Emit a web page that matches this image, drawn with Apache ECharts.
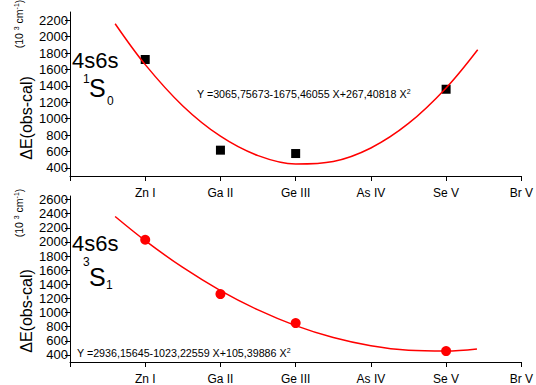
<!DOCTYPE html>
<html>
<head>
<meta charset="utf-8">
<script src="https://cdn.jsdelivr.net/npm/echarts@6/dist/echarts.min.js"></script>
<style>
html,body{margin:0;padding:0;background:#fff;}
#c{width:536px;height:385px;}
</style>
</head>
<body>
<div id="c"></div>
<script>
// ---- data ----
const categories = ["", "Zn I", "Ga II", "Ge III", "As IV", "Se V", "Br V"];
const pointX = [1, 2, 3, 5];
const topObs = [1721, 615, 574, 1358];
const topFitX = [0.6, 1, 1.5, 2, 2.5, 3, 3.5, 4, 4.5, 5, 5.42];
const topFitY = [2157, 1658, 1154, 785, 548, 446, 477, 642, 941, 1374, 1840];
const botObs = [2031, 1262, 851, 455];
const botFitX = [0.6, 1, 1.5, 2, 2.5, 3, 3.5, 4, 4.5, 5, 5.41];
const botFitY = [2360, 2018, 1638, 1311, 1037, 815, 646, 530, 466, 455, 485];
const topYTicks = [400, 600, 800, 1000, 1200, 1400, 1600, 1800, 2000, 2200];
const botYTicks = [400, 600, 800, 1000, 1200, 1400, 1600, 1800, 2000, 2200, 2400, 2600];
const topFormula = "Y =3065,75673-1675,46055 X+267,40818 X";
const botFormula = "Y =2936,15645-1023,22559 X+105,39886 X";

const FONT = "Liberation Sans";
const zip = (a, b) => a.map((v, i) => [v, b[i]]);

function xAxisCfg(gi) {
  return {
    gridIndex: gi, type: 'value', min: 0, max: 6, interval: 1,
    axisLine: { show: true, onZero: false, lineStyle: { color: '#000', width: 1 } },
    axisTick: { show: true, inside: false, length: 5, lineStyle: { color: '#000' } },
    axisLabel: { margin: 11, fontSize: 12, color: '#000', fontFamily: FONT,
      formatter: v => categories[v] || '' },
    splitLine: { show: false }
  };
}
function yAxisCfg(gi, min, max, ticks) {
  return {
    gridIndex: gi, type: 'value', min: min, max: max,
    axisLine: { show: true, onZero: false, lineStyle: { color: '#000', width: 1 } },
    axisTick: { show: true, length: 5, customValues: ticks, lineStyle: { color: '#000' } },
    axisLabel: { margin: 2, fontSize: 13, color: '#000', fontFamily: FONT, customValues: ticks,
      formatter: v => String(v) },
    splitLine: { show: false }
  };
}

const chart = echarts.init(document.getElementById('c'), null, { renderer: 'svg' });
const txt = (x, y, text, size) => ({
  type: 'text', x: x, y: y,
  style: { text: text, fontSize: size, fontFamily: FONT, fill: '#000',
    textAlign: 'left', textVerticalAlign: 'middle', verticalAlign: 'middle' }
});
const rot = (x, y, text, size) => ({
  type: 'text', x: x, y: y, rotation: Math.PI / 2,
  style: { text: text, fontSize: size, fontFamily: FONT, fill: '#000',
    textAlign: 'center', textVerticalAlign: 'middle', verticalAlign: 'middle',
    lineHeight: size + 2,
    rich: { s: { fontSize: 7, lineHeight: 8, verticalAlign: 'top', fontFamily: FONT, fill: '#000' } } }
});
const formula = (x, y, text) => ({
  type: 'text', x: x, y: y,
  style: { text: text + '{s|2}', fontSize: 10.7, fontFamily: FONT, fill: '#000',
    textAlign: 'left', textVerticalAlign: 'middle', verticalAlign: 'middle', lineHeight: 13,
    rich: { s: { fontSize: 7, lineHeight: 8, verticalAlign: 'top', fontFamily: FONT, fill: '#000' } } }
});

chart.setOption({
  animation: false,
  backgroundColor: '#fff',
  grid: [
    { left: 70, right: 11, top: 12, height: 164 },
    { left: 70, right: 11, top: 196, height: 168 }
  ],
  xAxis: [xAxisCfg(0), xAxisCfg(1)],
  yAxis: [yAxisCfg(0, 300, 2300, topYTicks), yAxisCfg(1, 300, 2650, botYTicks)],
  series: [
    { type: 'scatter', xAxisIndex: 0, yAxisIndex: 0, data: zip(pointX, topObs),
      symbol: 'rect', symbolSize: 9, itemStyle: { color: '#000', opacity: 1 }, z: 2 },
    { type: 'line', xAxisIndex: 0, yAxisIndex: 0, data: zip(topFitX, topFitY),
      smooth: 0.35, showSymbol: false, lineStyle: { color: '#ff0000', width: 1.5 }, z: 3 },
    { type: 'scatter', xAxisIndex: 1, yAxisIndex: 1, data: zip(pointX, botObs),
      symbol: 'circle', symbolSize: 10, itemStyle: { color: '#ff0000', opacity: 1 }, z: 2 },
    { type: 'line', xAxisIndex: 1, yAxisIndex: 1, data: zip(botFitX, botFitY),
      smooth: 0.35, showSymbol: false, lineStyle: { color: '#ff0000', width: 1.5 }, z: 3 }
  ],
  graphic: [
    rot(26, 118, 'ΔE(obs-cal)', 16),
    rot(19, 24, '(10 {s|3} cm{s|-1})', 10.5),
    rot(26, 311, 'ΔE(obs-cal)', 16),
    rot(19, 213, '(10 {s|3} cm{s|-1})', 10.5),
    // state labels top
    txt(72, 60, '4s6s', 22),
    txt(83, 79, '1', 12),
    txt(89, 88, 'S', 25),
    txt(107, 101, '0', 12),
    // state labels bottom
    txt(72, 243, '4s6s', 22),
    txt(83, 262, '3', 12),
    txt(89, 277, 'S', 25),
    txt(106, 285, '1', 12),
    // formulas
    formula(197, 94, topFormula),
    formula(77, 353, botFormula)
  ]
});
</script>
</body>
</html>
